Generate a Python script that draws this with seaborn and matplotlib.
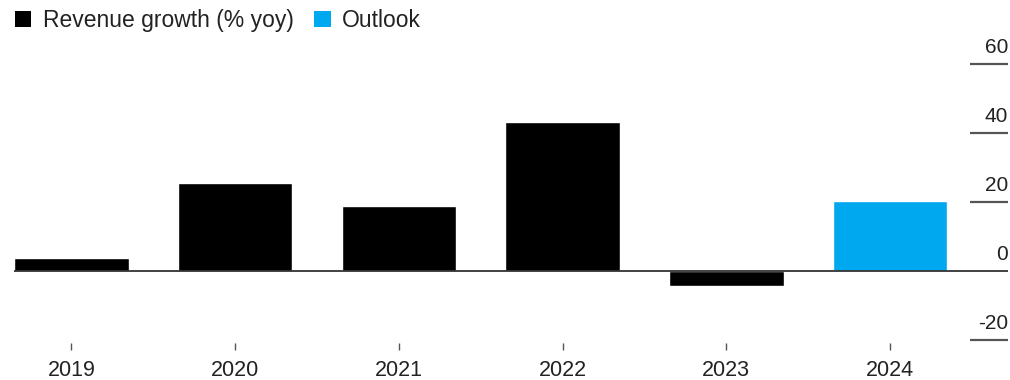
import matplotlib
matplotlib.use("Agg")
import matplotlib.pyplot as plt
import seaborn as sns
import pandas as pd
from matplotlib.patches import Patch

years = ["2019", "2020", "2021", "2022", "2023", "2024"]
growth = [3.7, 25.4, 18.8, 43.1, -4.4, 20.2]
kinds = ["Revenue growth (% yoy)"] * 5 + ["Outlook"]
y_ticks = [60, 40, 20, 0, -20]
colors = {"Revenue growth (% yoy)": "#000000", "Outlook": "#00A8F0"}

sns.set_theme(style="white")
plt.rcParams["font.family"] = ["Liberation Sans", "DejaVu Sans"]

df = pd.DataFrame({"year": years, "growth": growth, "kind": kinds})

fig = plt.figure(figsize=(10.1, 3.8), dpi=100)
ax = fig.add_axes([14 / 1010, 1 - 343.2 / 380, (1008 - 14) / 1010, (343.2 - 56.8) / 380])

sns.barplot(data=df, x="year", y="growth", hue="kind", palette=colors,
            dodge=False, width=0.70, ax=ax, legend=False, saturation=1)

ax.set_xlim(-0.35, 5.72)
ax.set_ylim(-21, 62)
for s in ax.spines.values():
    s.set_visible(False)

ax.axhline(0, color="#333333", lw=1.3, zorder=3)
for t in y_ticks:
    if t != 0:
        ax.hlines(t, 5.49, 5.72, color="#555555", lw=1.6)
    ax.annotate(str(t), xy=(5.72, t), xytext=(0, 5), textcoords="offset points",
                ha="right", va="bottom", fontsize=15, color="#222222")

ax.set_yticks([])
ax.set_xlabel("")
ax.set_ylabel("")
ax.tick_params(axis="x", length=5, width=1, color="#555555", bottom=True,
               pad=7, labelsize=15.5, labelcolor="#222222", direction="out")

handles = [Patch(facecolor=colors[k], edgecolor="none", label=k)
           for k in ["Revenue growth (% yoy)", "Outlook"]]
fig.legend(handles=handles, loc="upper left", bbox_to_anchor=(-0.006, 1.03),
           ncol=2, frameon=False, fontsize=16.5, handlelength=0.72,
           handleheight=0.72, handletextpad=0.5, columnspacing=0.9,
           labelcolor="#222222")

fig.savefig("out.png", dpi=100, facecolor="white")
